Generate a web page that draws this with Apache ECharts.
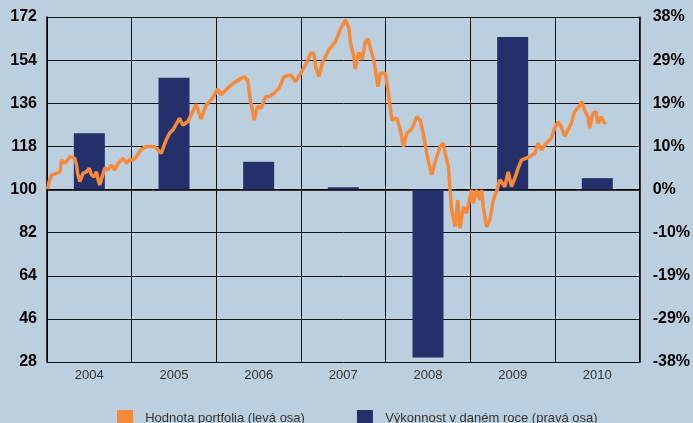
<!DOCTYPE html>
<html>
<head>
<meta charset="utf-8">
<script src="https://cdn.jsdelivr.net/npm/echarts@6/dist/echarts.min.js"></script>
<style>
html,body{margin:0;padding:0;background:#bccfdf;}
#c{width:693px;height:423px;}
</style>
</head>
<body>
<div id="c"></div>
<script>
var years = ['2004','2005','2006','2007','2008','2009','2010'];
var yearlyReturn = [12.4, 24.6, 6.1, 0.5, -37.0, 33.6, 2.5];
var lineTime = [2004.008,2004.024,2004.055,2004.114,2004.153,2004.173,2004.212,2004.271,2004.329,2004.349,2004.361,2004.388,2004.427,2004.467,2004.498,2004.526,2004.556,2004.585,2004.604,2004.624,2004.651,2004.682,2004.721,2004.761,2004.800,2004.839,2004.898,2004.938,2004.976,2005.015,2005.055,2005.114,2005.173,2005.271,2005.349,2005.408,2005.447,2005.486,2005.565,2005.604,2005.662,2005.721,2005.761,2005.820,2005.879,2005.956,2006.015,2006.055,2006.133,2006.192,2006.271,2006.329,2006.368,2006.388,2006.408,2006.427,2006.447,2006.486,2006.529,2006.585,2006.624,2006.682,2006.741,2006.800,2006.879,2006.938,2006.996,2007.055,2007.075,2007.114,2007.153,2007.173,2007.212,2007.251,2007.329,2007.408,2007.467,2007.526,2007.565,2007.585,2007.624,2007.641,2007.682,2007.721,2007.761,2007.792,2007.820,2007.859,2007.879,2007.909,2007.938,2007.996,2008.027,2008.055,2008.074,2008.133,2008.173,2008.212,2008.251,2008.309,2008.368,2008.408,2008.447,2008.486,2008.518,2008.545,2008.585,2008.644,2008.682,2008.702,2008.741,2008.761,2008.780,2008.820,2008.851,2008.879,2008.918,2008.956,2009.015,2009.035,2009.074,2009.114,2009.133,2009.153,2009.192,2009.231,2009.271,2009.309,2009.349,2009.408,2009.447,2009.486,2009.526,2009.565,2009.604,2009.702,2009.761,2009.800,2009.839,2009.898,2009.956,2009.996,2010.035,2010.074,2010.114,2010.153,2010.192,2010.231,2010.271,2010.318,2010.349,2010.388,2010.408,2010.447,2010.486,2010.506,2010.545,2010.585,2010.596];
var lineValue = [100.1,103.3,106.1,106.8,107.4,112.3,110.9,113.7,113.0,110.2,106.8,103.3,106.8,107.4,108.9,106.1,105.3,107.4,104.0,101.9,105.3,108.9,108.1,110.2,108.1,110.9,113.0,110.9,112.6,112.3,113.7,116.8,117.9,117.9,115.1,120.7,123.5,124.8,129.7,126.9,128.3,132.5,135.6,129.4,135.3,138.1,142.0,139.5,142.3,144.1,145.9,147.1,145.7,140.8,136.0,133.2,129.0,134.6,134.0,138.8,138.8,140.2,142.3,147.1,147.8,145.0,148.5,152.0,153.4,156.9,156.9,151.3,147.1,152.7,158.3,161.7,167.0,170.8,167.4,161.1,155.5,150.3,157.2,154.1,161.6,162.9,159.0,154.1,149.9,142.9,148.5,148.5,141.6,134.0,129.0,129.8,124.8,117.9,123.5,125.3,130.4,129.0,122.8,115.1,109.8,106.1,111.6,117.9,119.3,115.1,109.5,99.8,91.4,84.5,95.6,83.8,92.8,90.1,99.8,94.2,99.8,95.6,99.8,92.8,84.5,87.3,95.6,99.1,104.0,101.2,107.4,101.2,104.8,108.9,112.3,113.7,115.1,119.3,116.5,119.3,121.3,125.6,128.3,126.2,122.3,124.8,127.6,132.5,133.9,136.7,133.2,130.4,125.6,131.8,132.5,127.6,130.4,127.6,128.3];
var leftTicks = {min: 28, max: 172, step: 18};
var rightTicks = {min: -38, max: 38, step: 9.5};
var seriesNames = ['Hodnota portfolia (levá osa)', 'Výkonnost v daném roce (pravá osa)'];

var lineData = lineTime.map(function(t, i){ return [t, lineValue[i]]; });

var chart = echarts.init(document.getElementById('c'), null, {renderer: 'canvas'});
var FONT = '"Liberation Sans", Arial, sans-serif';
chart.setOption({
  backgroundColor: '#bccfdf',
  animation: false,
  grid: {left: 47, right: 51, top: 17, bottom: 61, containLabel: false},
  legend: {
    left: 117, top: 410, itemWidth: 16, itemHeight: 16, itemGap: 52, padding: 0,
    icon: 'rect',
    formatter: function(n){ return '  ' + n; },
    textStyle: {fontFamily: FONT, fontSize: 13, color: '#333'},
    data: [
      {name: seriesNames[0], itemStyle: {color: '#f68a3a'}},
      {name: seriesNames[1], itemStyle: {color: '#25306a'}}
    ]
  },
  xAxis: [
    {
      type: 'category', data: years, boundaryGap: true, position: 'bottom',
      axisLine: {show: true, lineStyle: {color: '#000', width: 1.5}},
      axisTick: {show: true, length: 4, lineStyle: {color: '#000'}},
      axisLabel: {fontFamily: FONT, fontSize: 13, color: '#333', margin: 7},
      splitLine: {show: true, lineStyle: {color: '#111', width: 1}}
    },
    {
      type: 'value', min: 2004, max: 2011, show: false
    }
  ],
  yAxis: [
    {
      type: 'value', position: 'left', min: leftTicks.min, max: leftTicks.max, interval: leftTicks.step,
      axisLine: {show: true, lineStyle: {color: '#000', width: 1.5}},
      axisTick: {show: false},
      axisLabel: {fontFamily: FONT, fontSize: 16, fontWeight: 'bold', color: '#000', margin: 10},
      splitLine: {show: true, lineStyle: {color: '#111', width: 1}}
    },
    {
      type: 'value', position: 'right', min: rightTicks.min, max: rightTicks.max, interval: rightTicks.step,
      axisLine: {show: true, lineStyle: {color: '#000', width: 1.5}},
      axisTick: {show: false},
      axisLabel: {fontFamily: FONT, fontSize: 16, fontWeight: 'bold', color: '#000', margin: 13,
        formatter: function(v){ var r = Math.round(Math.abs(v)); return (v < 0 ? '-' : '') + r + '%'; }},
      splitLine: {show: false}
    }
  ],
  series: [
    {
      name: seriesNames[1], type: 'bar', xAxisIndex: 0, yAxisIndex: 1,
      data: yearlyReturn, barWidth: 31,
      itemStyle: {color: '#25306a'}, z: 2
    },
    {
      name: seriesNames[0], type: 'line', xAxisIndex: 1, yAxisIndex: 0,
      data: lineData, showSymbol: false, symbol: 'none',
      lineStyle: {color: '#f68a3a', width: 3.5}, itemStyle: {color: '#f68a3a'}, z: 3
    }
  ]
});
</script>
</body>
</html>
